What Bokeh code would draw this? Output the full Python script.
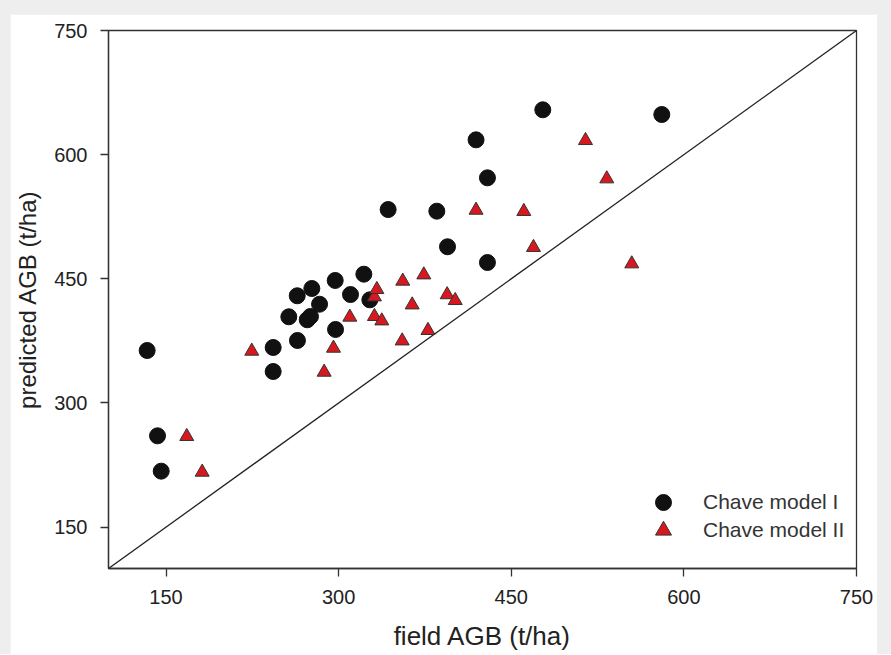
from bokeh.plotting import figure
from bokeh.models import Legend, LegendItem, Range1d, FixedTicker
from bokeh.layouts import column
from bokeh.embed import file_html
from bokeh.resources import INLINE

# Chave model I (circles)
field_I = [133.6, 142.6, 145.8, 243.1, 243.1, 264.2, 256.7, 264.0, 272.7, 275.5,
           276.7, 283.4, 297.3, 297.0, 310.3, 321.9, 327.1, 343.0, 385.3, 394.6,
           419.4, 429.3, 429.3, 477.4, 580.8]
pred_I = [363.4, 260.3, 217.6, 338.0, 367.0, 375.5, 404.1, 429.5, 400.5, 404.5,
          438.3, 419.3, 388.8, 448.0, 431.0, 455.6, 424.6, 533.7, 531.7, 488.7,
          617.9, 572.0, 469.7, 654.2, 648.5]

# Chave model II (triangles)
field_II = [168.0, 181.4, 224.5, 287.4, 295.5, 309.7, 331.1, 337.5, 331.1, 333.2,
            355.7, 363.9, 355.2, 374.0, 377.6, 394.3, 401.3, 419.4, 460.9, 469.3,
            514.5, 533.0, 554.7]
pred_II = [259.5, 216.4, 362.6, 337.2, 366.2, 403.7, 404.5, 399.2, 428.2, 437.1,
           447.2, 418.5, 375.0, 454.8, 387.6, 430.8, 423.8, 532.9, 531.4, 487.9,
           617.1, 570.8, 468.1]

ticks = [150, 300, 450, 600, 750]
diag = [100, 750]

FONT = "Liberation Sans"
TXT = "#222222"

p = figure(width=867, height=640,
           x_range=Range1d(100, 750), y_range=Range1d(100, 750),
           output_backend="svg", toolbar_location=None,
           min_border_left=98, min_border_right=21,
           min_border_top=16, min_border_bottom=86,
           background_fill_color="white", border_fill_color="white")

p.xgrid.visible = False
p.ygrid.visible = False
p.outline_line_color = "#333333"
p.outline_line_width = 1.3

for ax in (p.xaxis[0], p.yaxis[0]):
    ax.ticker = FixedTicker(ticks=ticks)
    ax.axis_line_color = "#333333"
    ax.axis_line_width = 1.3
    ax.major_tick_line_color = "#333333"
    ax.major_tick_line_width = 1.3
    ax.major_tick_out = 8
    ax.major_tick_in = 0
    ax.minor_tick_line_color = None
    ax.major_label_text_font = FONT
    ax.major_label_text_font_size = "20px"
    ax.major_label_text_color = TXT
    ax.axis_label_text_font = FONT
    ax.axis_label_text_font_style = "normal"
    ax.axis_label_text_color = TXT

p.xaxis.axis_label = "field AGB (t/ha)"
p.xaxis.axis_label_text_font_size = "26px"
p.xaxis.major_label_standoff = 13
p.xaxis.axis_label_standoff = 14

p.yaxis.axis_label = "predicted AGB (t/ha)"
p.yaxis.axis_label_text_font_size = "24px"
p.yaxis.major_label_standoff = 13
p.yaxis.axis_label_standoff = 10

p.line(diag, diag, line_color="#222222", line_width=1.3)

r1 = p.scatter(field_I, pred_I, marker="circle", size=16,
               fill_color="#111111", line_color="#111111")
r2 = p.scatter(field_II, pred_II, marker="triangle", size=14,
               fill_color="#d7191f", line_color="#333333", line_width=1)

common = dict(glyph_width=40, glyph_height=40, label_standoff=20,
              padding=0, margin=0, border_line_color=None,
              background_fill_alpha=0, label_text_font=FONT,
              label_text_font_size="21px", label_text_color="#333333")
leg1 = Legend(items=[LegendItem(label="Chave model I", renderers=[r1])],
              location=(535, 46), **common)
leg2 = Legend(items=[LegendItem(label="Chave model II", renderers=[r2])],
              location=(535, 18), **common)
p.add_layout(leg1)
p.add_layout(leg2)

layout = column(p, styles={"background-color": "#eeeeee",
                           "padding": "14px 14px 0px 10px"})

open("out.html", "w").write(file_html(layout, INLINE))
